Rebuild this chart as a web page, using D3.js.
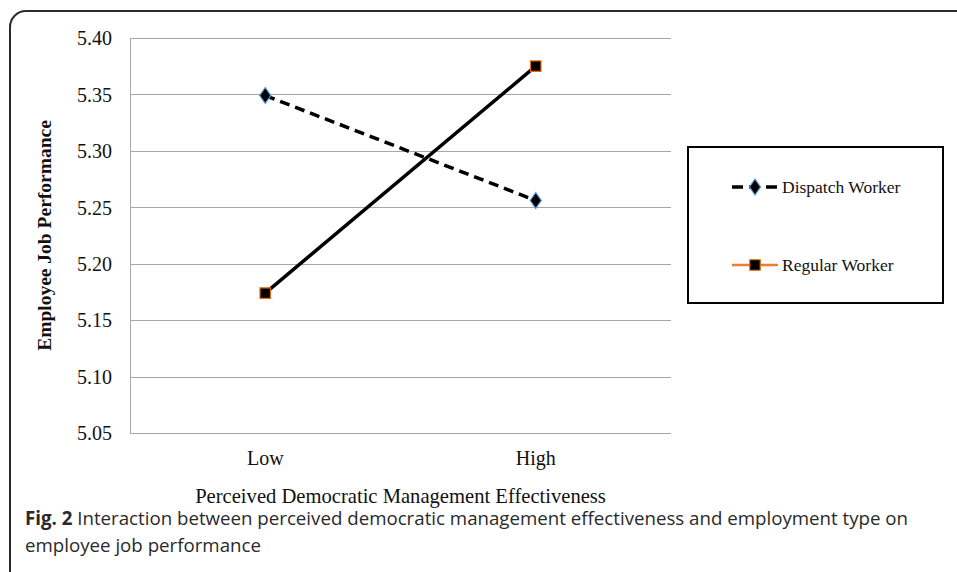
<!DOCTYPE html>
<html>
<head>
<meta charset="utf-8">
<script src="https://cdn.jsdelivr.net/npm/d3@7"></script>
<style>
  body { margin: 0; background: #fff; }
  svg { display: block; }
  .tick text { font-family: "Liberation Serif", "Times New Roman", serif; }
</style>
</head>
<body>
<svg id="chart" width="957" height="572"></svg>
<script>
var categories = ["Low", "High"];
var dispatchWorker = [5.349, 5.256];
var regularWorker = [5.174, 5.375];
var yTicks = [5.05, 5.10, 5.15, 5.20, 5.25, 5.30, 5.35, 5.40];
var seriesNames = ["Dispatch Worker", "Regular Worker"];

var svg = d3.select("#chart");
var serif = '"Liberation Serif", "Times New Roman", serif';

// frame round the whole figure, runs off the right and bottom
svg.append("rect")
	.attr("x", 10).attr("y", 11)
	.attr("width", 1000).attr("height", 620)
	.attr("rx", 16).attr("ry", 16)
	.attr("fill", "none")
	.attr("stroke", "#2b2b2b")
	.attr("stroke-width", 2);

var plot = { left: 130, right: 671, top: 38, bottom: 433 };

var x = d3.scaleBand()
	.domain(categories)
	.range([plot.left, plot.right]);

var y = d3.scaleLinear()
	.domain([5.05, 5.40])
	.range([plot.bottom, plot.top]);

// gridlines
svg.append("g")
	.selectAll("line")
	.data(yTicks)
	.enter().append("line")
	.attr("x1", plot.left).attr("x2", plot.right)
	.attr("y1", function(d) { return Math.round(y(d)) + 0.5; })
	.attr("y2", function(d) { return Math.round(y(d)) + 0.5; })
	.attr("stroke", "#a8a8a8")
	.attr("stroke-width", 1);

svg.append("line")
	.attr("x1", plot.left + 0.5).attr("x2", plot.left + 0.5)
	.attr("y1", plot.top).attr("y2", plot.bottom + 1)
	.attr("stroke", "#a8a8a8");

var yAxis = svg.append("g")
	.attr("transform", "translate(" + (plot.left - 18) + ",0)")
	.call(d3.axisLeft(y).tickValues(yTicks).tickSize(0).tickPadding(0).tickFormat(d3.format(".2f")));
yAxis.select(".domain").remove();
yAxis.selectAll("text")
	.attr("font-size", 20)
	.attr("fill", "#111")
	.attr("dy", "0.34em");

var xAxis = svg.append("g")
	.attr("transform", "translate(0," + plot.bottom + ")")
	.call(d3.axisBottom(x).tickSize(0).tickPadding(0));
xAxis.select(".domain").remove();
xAxis.selectAll("text")
	.attr("font-size", 20)
	.attr("fill", "#111")
	.attr("dy", "1.6em");

// axis titles
svg.append("text")
	.attr("x", (plot.left + plot.right) / 2)
	.attr("y", 503)
	.attr("text-anchor", "middle")
	.attr("font-family", serif)
	.attr("font-size", 20.6)
	.attr("fill", "#111")
	.text("Perceived Democratic Management Effectiveness");

svg.append("text")
	.attr("transform", "translate(51," + ((plot.top + plot.bottom) / 2) + ") rotate(-90)")
	.attr("text-anchor", "middle")
	.attr("font-family", serif)
	.attr("font-weight", "bold")
	.attr("font-size", 19.5)
	.attr("fill", "#111")
	.text("Employee Job Performance");

// lines
var line = d3.line()
	.x(function(d, i) { return x(categories[i]) + x.bandwidth() / 2; })
	.y(function(d) { return y(d); });

svg.append("path")
	.datum(dispatchWorker)
	.attr("d", line)
	.attr("fill", "none")
	.attr("stroke", "#000")
	.attr("stroke-width", 3.5)
	.attr("stroke-dasharray", "10,6");

svg.append("path")
	.datum(regularWorker)
	.attr("d", line)
	.attr("fill", "none")
	.attr("stroke", "#000")
	.attr("stroke-width", 3.5);

var diamond = d3.symbol().type(d3.symbolDiamond).size(75);
var square = d3.symbol().type(d3.symbolSquare).size(110);

svg.append("g")
	.selectAll("path")
	.data(dispatchWorker)
	.enter().append("path")
	.attr("d", diamond)
	.attr("transform", function(d, i) {
		return "translate(" + (x(categories[i]) + x.bandwidth() / 2) + "," + y(d) + ") scale(1.2,1)";
	})
	.attr("fill", "#000")
	.attr("stroke", "#5b9bd5")
	.attr("stroke-width", 1);

svg.append("g")
	.selectAll("path")
	.data(regularWorker)
	.enter().append("path")
	.attr("d", square)
	.attr("transform", function(d, i) {
		return "translate(" + (x(categories[i]) + x.bandwidth() / 2) + "," + y(d) + ")";
	})
	.attr("fill", "#000")
	.attr("stroke", "#e46c0a")
	.attr("stroke-width", 1.2);

// legend
var legend = svg.append("g");
legend.append("rect")
	.attr("x", 688).attr("y", 147)
	.attr("width", 255).attr("height", 156)
	.attr("fill", "#fff")
	.attr("stroke", "#000")
	.attr("stroke-width", 2);

var legendY = [187, 265];

legend.append("line")
	.attr("x1", 732).attr("x2", 777)
	.attr("y1", legendY[0]).attr("y2", legendY[0])
	.attr("stroke", "#000")
	.attr("stroke-width", 3.5)
	.attr("stroke-dasharray", "11,6");
legend.append("path")
	.attr("d", diamond)
	.attr("transform", "translate(755," + legendY[0] + ") scale(1.2,1)")
	.attr("fill", "#000")
	.attr("stroke", "#5b9bd5");

legend.append("line")
	.attr("x1", 732).attr("x2", 778)
	.attr("y1", legendY[1]).attr("y2", legendY[1])
	.attr("stroke", "#ed7d31")
	.attr("stroke-width", 2.5);
legend.append("path")
	.attr("d", square)
	.attr("transform", "translate(755," + legendY[1] + ")")
	.attr("fill", "#000")
	.attr("stroke", "#e46c0a")
	.attr("stroke-width", 1.2);

legend.selectAll("text.item")
	.data(seriesNames)
	.enter().append("text")
	.attr("class", "item")
	.attr("x", 782)
	.attr("y", function(d, i) { return legendY[i]; })
	.attr("dy", "0.33em")
	.attr("font-family", serif)
	.attr("font-size", 17.5)
	.attr("fill", "#111")
	.text(function(d) { return d; });

// caption
var caption = svg.append("g")
	.attr("font-family", '"Open Sans", sans-serif')
	.attr("font-size", 18.7)
	.attr("fill", "#2a2a2a");
var cap1 = caption.append("text").attr("x", 25).attr("y", 525);
cap1.append("tspan").attr("font-weight", "bold").text("Fig. 2");
cap1.append("tspan").text(" Interaction between perceived democratic management effectiveness and employment type on");
caption.append("text").attr("x", 25).attr("y", 552)
	.text("employee job performance");
</script>
</body>
</html>
